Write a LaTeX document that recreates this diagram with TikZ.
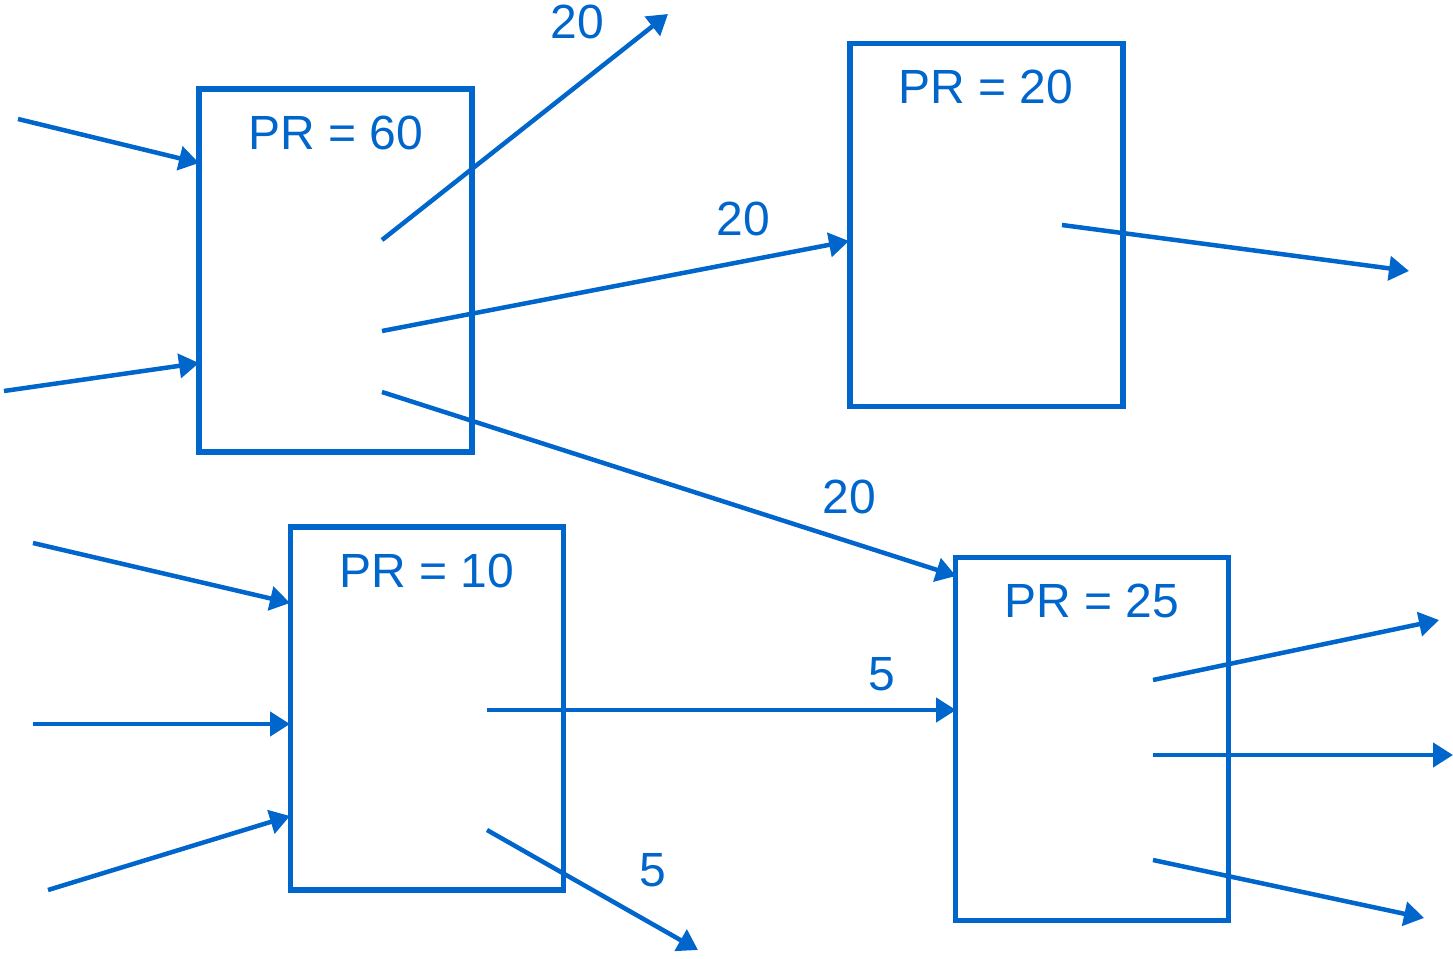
\documentclass[tikz,border=0pt]{standalone}
\usepackage{fontspec}
\setmainfont{Liberation Sans}
\usetikzlibrary{arrows.meta}
\definecolor{prblue}{RGB}{0,102,204}
\begin{document}
\begin{tikzpicture}[x=1pt,y=-1pt,
  pbox/.style={draw=prblue,line width=5.5pt,minimum width=273pt,minimum height=363pt,inner sep=0pt},
  prtext/.style={text=prblue,font=\fontsize{48}{52}\selectfont,inner sep=0pt},
  link/.style={draw=prblue,line width=4.5pt,-{Triangle[length=20pt,width=24pt]}}]
\useasboundingbox (0,0) rectangle (1453,958);
% boxes
\node[pbox] (b1) at (335.5,270.5) {};
\node[pbox] (b2) at (986.5,225) {};
\node[pbox] (b3) at (427,708.5) {};
\node[pbox] (b4) at (1092,739) {};
% titles
\node[prtext] (t1) at (336,133) {PR = 60};
\node[prtext] (t2) at (986,87) {PR = 20};
\node[prtext] (t3) at (427,571) {PR = 10};
\node[prtext] (t4) at (1092,601) {PR = 25};
% coordinates
\coordinate (i1a) at (18,119);   \coordinate (e1a) at (199,163);
\coordinate (i1b) at (4,391);    \coordinate (e1b) at (199,363);
\coordinate (s1a) at (382,240);  \coordinate (o1a) at (668,14);
\coordinate (s1b) at (382,331);  \coordinate (e2a) at (849,241);
\coordinate (s1c) at (382,392);  \coordinate (e4a) at (956,576);
\coordinate (s2a) at (1062,225); \coordinate (o2a) at (1409,271);
\coordinate (i3a) at (33,543);   \coordinate (e3a) at (290,603);
\coordinate (i3b) at (33,724);   \coordinate (e3b) at (290,724);
\coordinate (i3c) at (48,890);   \coordinate (e3c) at (290,816);
\coordinate (s3a) at (487,710);  \coordinate (e4b) at (956,710);
\coordinate (s3b) at (487,830);  \coordinate (o3a) at (698,950);
\coordinate (s4a) at (1153,680); \coordinate (o4a) at (1439,620);
\coordinate (s4b) at (1153,755); \coordinate (o4b) at (1453,755);
\coordinate (s4c) at (1153,860); \coordinate (o4c) at (1424,918);
% connectors
\draw[link] (i1a) -- (e1a);
\draw[link] (i1b) -- (e1b);
\draw[link] (s1a) -- (o1a);
\draw[link] (s1b) -- (e2a);
\draw[link] (s1c) -- (e4a);
\draw[link] (s2a) -- (o2a);
\draw[link] (i3a) -- (e3a);
\draw[link] (i3b) -- (e3b);
\draw[link] (i3c) -- (e3c);
\draw[link] (s3a) -- (e4b);
\draw[link] (s3b) -- (o3a);
\draw[link] (s4a) -- (o4a);
\draw[link] (s4b) -- (o4b);
\draw[link] (s4c) -- (o4c);
% labels
\node[prtext] (l1) at (577,22) {20};
\node[prtext] (l2) at (743,219) {20};
\node[prtext] (l3) at (849,497) {20};
\node[prtext] (l4) at (882,674) {5};
\node[prtext] (l5) at (653,870) {5};
\end{tikzpicture}
\end{document}
